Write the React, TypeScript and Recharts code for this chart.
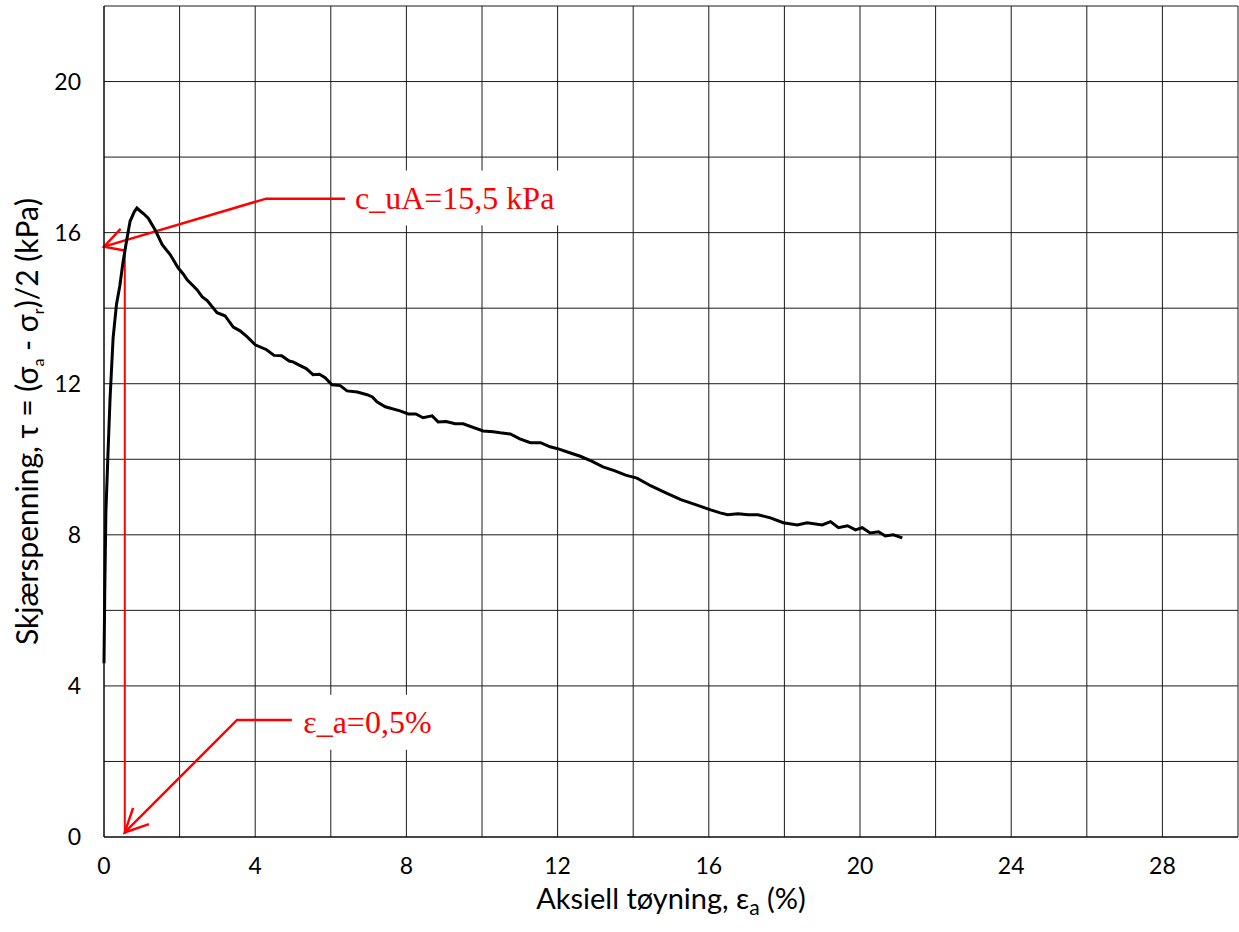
import { LineChart, Line, XAxis, YAxis, CartesianGrid, ReferenceDot } from "recharts";

// Skjærspenning mot aksiell tøyning
const strain = [
  0, 0.02, 0.05, 0.1, 0.16, 0.24, 0.33, 0.42, 0.5, 0.6, 0.69, 0.8, 0.87, 0.95, 1.05, 1.17, 1.35,
  1.54, 1.75, 1.96, 2.1, 2.2, 2.46, 2.6, 2.73, 2.99, 3.2, 3.42, 3.6, 3.79, 4.0, 4.3, 4.5, 4.7,
  4.9, 5.0, 5.19, 5.35, 5.53, 5.7, 5.85, 6.03, 6.25, 6.43, 6.7, 6.96, 7.1, 7.22, 7.44, 7.83,
  8.05, 8.25, 8.44, 8.68, 8.84, 9.05, 9.29, 9.5, 10.03, 10.3, 10.48, 10.75, 11.0, 11.28, 11.55,
  11.8, 12.0, 12.3, 12.6, 12.9, 13.2, 13.5, 13.8, 14.1, 14.46, 14.85, 15.26, 15.65, 16.05, 16.3,
  16.5, 16.77, 17.05, 17.3, 17.63, 17.97, 18.34, 18.6, 19.0, 19.22, 19.43, 19.67, 19.88, 20.06,
  20.27, 20.49, 20.67, 20.88, 21.12,
];
const shear = [
  4.6, 6.5, 8.6, 10.0, 11.6, 13.2, 14.1, 14.6, 15.2, 15.8, 16.3, 16.55, 16.65, 16.58, 16.5,
  16.38, 16.08, 15.68, 15.42, 15.07, 14.9, 14.75, 14.49, 14.3, 14.2, 13.88, 13.8, 13.5, 13.4,
  13.24, 13.03, 12.9, 12.75, 12.74, 12.6, 12.58, 12.48, 12.4, 12.24, 12.25, 12.16, 11.97, 11.95,
  11.81, 11.78, 11.71, 11.65, 11.52, 11.39, 11.28, 11.2, 11.2, 11.1, 11.15, 10.99, 11.0, 10.94,
  10.94, 10.75, 10.73, 10.7, 10.67, 10.54, 10.44, 10.44, 10.33, 10.28, 10.18, 10.08, 9.95, 9.8,
  9.7, 9.58, 9.5, 9.3, 9.12, 8.93, 8.8, 8.66, 8.58, 8.53, 8.56, 8.53, 8.53, 8.45, 8.32, 8.26,
  8.32, 8.26, 8.35, 8.19, 8.24, 8.13, 8.19, 8.05, 8.08, 7.97, 8.0, 7.92,
];

const xTicks = [0, 2, 4, 6, 8, 10, 12, 14, 16, 18, 20, 22, 24, 26, 28, 30];
const yTicks = [0, 2, 4, 6, 8, 10, 12, 14, 16, 18, 20, 22];

// annotasjoner (i dataenheter)
const cuLeader = [
  { x: 6.38, y: 16.9 },
  { x: 4.29, y: 16.9 },
  { x: 0, y: 15.63 },
];
const cuHead = [
  { x: 0.44, y: 16.1 },
  { x: 0, y: 15.63 },
  { x: 0.58, y: 15.52 },
];
const epsVertical = [
  { x: 0.55, y: 15.5 },
  { x: 0.55, y: 0.08 },
];
const epsLeader = [
  { x: 4.97, y: 3.1 },
  { x: 3.52, y: 3.1 },
  { x: 0.55, y: 0.12 },
];
const epsHead = [
  { x: 0.77, y: 0.77 },
  { x: 0.55, y: 0.12 },
  { x: 1.19, y: 0.34 },
];
const cuLabel = { x: 6.64, y: 16.93, text: "c_uA=15,5 kPa", w: 222 };
const epsLabel = { x: 5.27, y: 3.05, text: "ε_a=0,5%", w: 142 };

const data = strain.map((x, i) => ({ x, y: shear[i] }));

const tickStyle = { fill: "#000", fontSize: 23, fontFamily: "Lato, sans-serif" };

function BoxLabel({ cx, cy, text, w }: any) {
  return (
    <g>
      <rect x={cx - 10} y={cy - 27} width={w} height={55} fill="#fff" />
      <text
        x={cx}
        y={cy}
        dy="0.35em"
        fill="#ff0000"
        fontSize={32}
        fontFamily="'Liberation Serif', 'Times New Roman', serif"
      >
        {text}
      </text>
    </g>
  );
}

function YTitle({ viewBox }: any) {
  const cx = 27;
  const cy = viewBox.y + viewBox.height / 2;
  return (
    <text
      x={cx}
      y={cy}
      transform={`rotate(-90 ${cx} ${cy})`}
      textAnchor="middle"
      dy="0.35em"
      fontSize={30}
      fontFamily="Lato, sans-serif"
      fill="#000"
    >
      Skjærspenning, τ = (σ
      <tspan fontSize={16} dy={6}>a</tspan>
      <tspan dy={-6}> - σ</tspan>
      <tspan fontSize={16} dy={6}>r</tspan>
      <tspan dy={-6}>)/2 (kPa)</tspan>
    </text>
  );
}

function XTitle({ viewBox }: any) {
  const cx = viewBox.x + viewBox.width / 2;
  return (
    <text
      x={cx}
      y={909}
      textAnchor="middle"
      fontSize={29}
      fontFamily="Lato, sans-serif"
      fill="#000"
    >
      Aksiell tøyning, ε
      <tspan fontSize={21} dy={6}>a</tspan>
      <tspan dy={-6}> (%)</tspan>
    </text>
  );
}

export default function App() {
  const red = "#ff0000";
  return (
    <div style={{ position: "absolute", left: 0, top: 0, background: "#fff" }}>
      <LineChart width={1239} height={932} margin={{ top: 6, right: 1, left: 0, bottom: 0 }}>
        <CartesianGrid stroke="#1a1a1a" strokeWidth={1} />
        <XAxis
          type="number"
          dataKey="x"
          domain={[0, 30]}
          ticks={xTicks}
          interval={0}
          height={95}
          tickLine={false}
          tickSize={0}
          tickMargin={21}
          axisLine={{ stroke: "#000" }}
          tick={tickStyle}
          tickFormatter={(v) => (v % 4 === 0 && v <= 28 ? String(v) : "")}
          label={<XTitle />}
        />
        <YAxis
          type="number"
          dataKey="y"
          domain={[0, 22]}
          ticks={yTicks}
          interval={0}
          width={104}
          tickLine={false}
          tickSize={0}
          tickMargin={23}
          axisLine={{ stroke: "#000" }}
          tick={tickStyle}
          tickFormatter={(v) => (v % 4 === 0 && v <= 20 ? String(v) : "")}
          label={<YTitle />}
        />
        <ReferenceDot
          x={cuLabel.x}
          y={cuLabel.y}
          r={0}
          shape={(p: any) => <BoxLabel cx={p.cx} cy={p.cy} text={cuLabel.text} w={cuLabel.w} />}
        />
        <ReferenceDot
          x={epsLabel.x}
          y={epsLabel.y}
          r={0}
          shape={(p: any) => <BoxLabel cx={p.cx} cy={p.cy} text={epsLabel.text} w={epsLabel.w} />}
        />
        <Line data={cuLeader} dataKey="y" stroke={red} strokeWidth={2.5} dot={false} isAnimationActive={false} />
        <Line data={cuHead} dataKey="y" stroke={red} strokeWidth={2.5} dot={false} isAnimationActive={false} />
        <Line data={epsVertical} dataKey="y" stroke={red} strokeWidth={2} dot={false} isAnimationActive={false} />
        <Line data={epsLeader} dataKey="y" stroke={red} strokeWidth={2.5} dot={false} isAnimationActive={false} />
        <Line data={epsHead} dataKey="y" stroke={red} strokeWidth={2.5} dot={false} isAnimationActive={false} />
        <Line
          data={data}
          dataKey="y"
          type="linear"
          stroke="#000"
          strokeWidth={3}
          dot={false}
          isAnimationActive={false}
        />
      </LineChart>
    </div>
  );
}
